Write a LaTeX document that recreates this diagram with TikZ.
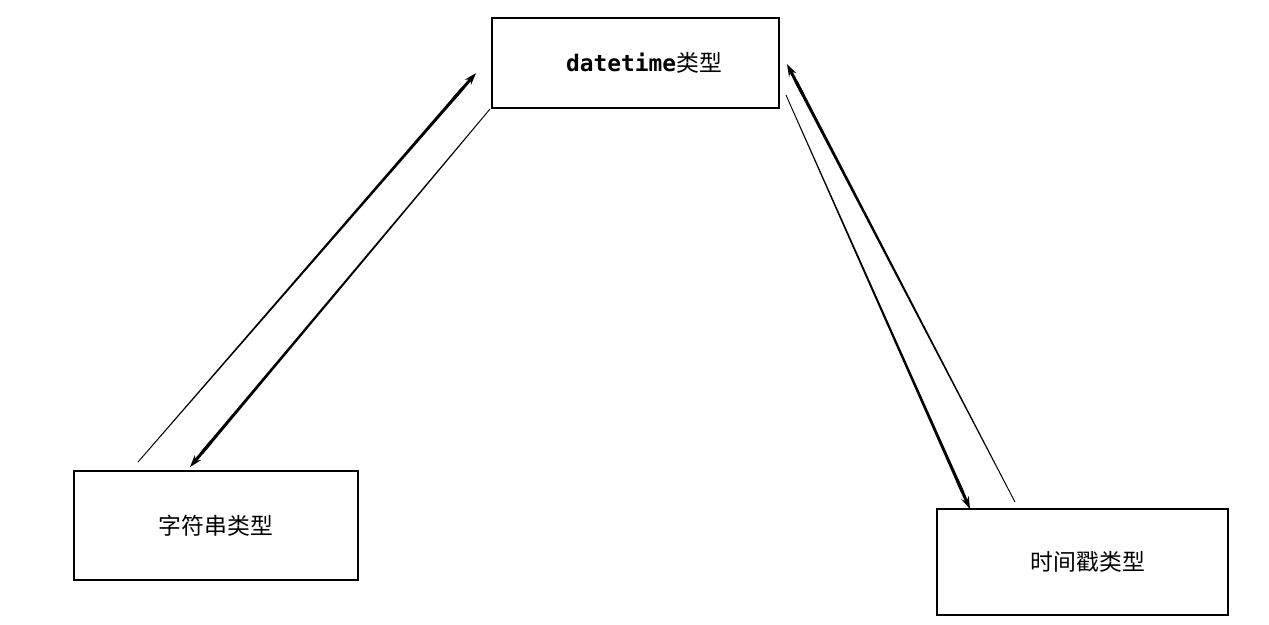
\documentclass[tikz,border=0pt]{standalone}
\usepackage{fontspec}
\setmonofont{DejaVu Sans Mono}
\newfontfamily\cjk{Noto Sans CJK SC}
\usepackage{tikz}
\usetikzlibrary{shapes, arrows.meta, positioning, calc}

\tikzset{
    typebox/.style={draw, line width=1.1pt, inner sep=0pt, font=\cjk\fontsize{13}{15}\selectfont},
    tiphead/.style={line width=1.7pt, -{Stealth[length=7pt,width=4.5pt]}}
}

% arrow that gets thicker from tail to head
\newcommand{\taperarrow}[2]{%
    \fill ($(#1)!0.25pt!90:(#2)$) -- ($($(#1)!0.96!(#2)$)!0.9pt!-90:(#1)$)
        -- ($($(#1)!0.96!(#2)$)!0.9pt!90:(#1)$) -- ($(#1)!0.25pt!-90:(#2)$) -- cycle;
    \draw[tiphead] ($(#1)!0.93!(#2)$) -- (#2);}

\begin{document}
\begin{tikzpicture}[x=0.02cm, y=-0.02cm]
        \useasboundingbox (0,0) rectangle (1269,625);

        % Type boxes
        \node[typebox, minimum width=5.74cm, minimum height=1.8cm] (dt) at (635.5, 63) {\hspace{0.34cm}\texttt{\bfseries datetime}类型};
        \node[typebox, minimum width=5.68cm, minimum height=2.18cm] (str) at (216, 525.5) {字符串类型};
        \node[typebox, minimum width=5.82cm, minimum height=2.12cm] (ts) at (1082.5, 562) {\hspace{0.22cm}时间戳类型};

        % Arrow ends
        \coordinate (str out) at ([shift={(-78,-8)}]str.north);
        \coordinate (str in) at ([shift={(-26,-3)}]str.north);
        \coordinate (dt in left) at ([shift={(-15,10)}]dt.west);
        \coordinate (dt out left) at ([shift={(-1,0)}]dt.south west);
        \coordinate (dt in right) at ([shift={(7,1)}]dt.east);
        \coordinate (dt out right) at ([shift={(6,32)}]dt.east);
        \coordinate (ts out) at ([shift={(-67.5,-6)}]ts.north);
        \coordinate (ts in) at ([shift={(34,1)}]ts.north west);

        % String <-> datetime
        \taperarrow{str out}{dt in left}
        \taperarrow{dt out left}{str in}

        % datetime <-> timestamp
        \taperarrow{ts out}{dt in right}
        \taperarrow{dt out right}{ts in}
\end{tikzpicture}
\end{document}
